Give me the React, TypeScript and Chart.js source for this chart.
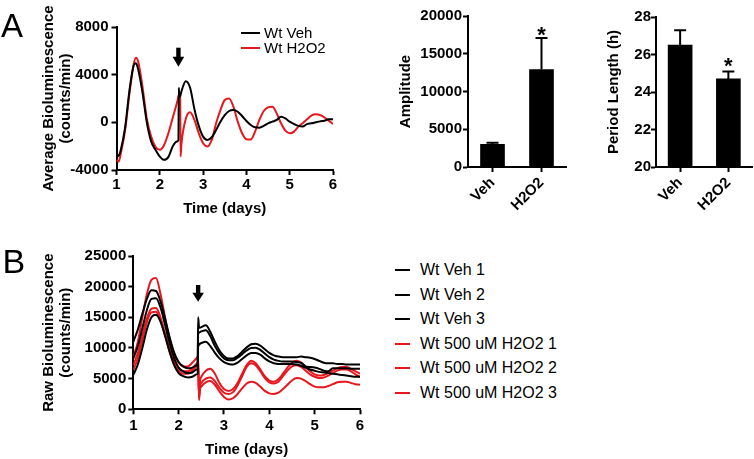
import React, { useEffect, useRef } from 'react';
import { Chart, registerables } from 'chart.js';
Chart.register(...registerables);

const FONT = "Arial, 'Liberation Sans', Helvetica, sans-serif";
const RED = '#e8161d';

// ---------- Panel A: average bioluminescence ----------
const timeA = [
  1.0, 1.05, 1.1, 1.2, 1.3, 1.4, 1.45, 1.5, 1.6, 1.7,
  1.8, 1.9, 2.0, 2.1, 2.2, 2.3, 2.4, 2.43, 2.44, 2.45,
  2.47, 2.48, 2.5, 2.6, 2.7, 2.8, 2.9, 3.0,
  3.1, 3.2, 3.3, 3.4, 3.5, 3.6, 3.7, 3.8, 3.9, 4.0,
  4.1, 4.2, 4.3, 4.4, 4.5, 4.6, 4.7, 4.8, 4.9, 5.0,
  5.1, 5.2, 5.3, 5.4, 5.5, 5.6, 5.7, 5.8, 5.9, 6.0,
];
const vehAvg = [
  -2870, -2800, -2300, -400, 2700, 4800, 4950, 4450, 2500, 0,
  -1600, -2300, -2870, -3150, -2900, -2000, -1600, -1500, 2900, 2100,
  2200, 2300, 2600, 3450, 2900, 1100, -300, -1200,
  -1480, -1250, -640, 50, 600, 950, 1030, 890, 530, 110,
  -220, -420, -450, -300, -80, 55, 200, 470, 330, 55,
  -140, -300, -360, -150, -80, 0, 80, 140, 250, 250,
];
const h2o2Avg = [
  -3150, -3290, -2600, -640, 2420, 4930, 5430, 5100, 3000, 300,
  -1200, -2050, -2300, -1900, -900, 400, 1700, 2200, 2300, 2350,
  2300, -2870, -1800, 300, 840, 200, -920, -1760,
  -2030, -1480, -80, 1030, 1870, 2000, 1310, 55, -920, -1420,
  -1450, -780, 200, 950, 1250, 1310, 750, -80, -700, -920,
  -780, -360, -80, 250, 560, 670, 610, 420, 140, -140,
];
const legendA = ['Wt Veh', 'Wt H2O2'];

// ---------- Amplitude / period bars ----------
const barCats = ['Veh', 'H2O2'];
const ampMean = [3000, 12900];
const ampErr = [220, 4200];
const periodMean = [26.5, 24.7];
const periodErr = [0.8, 0.4];
const significant = [false, true];

// ---------- Panel B: raw bioluminescence ----------
const timeB = [
  1.0, 1.1, 1.2, 1.3, 1.4, 1.5, 1.6, 1.7, 1.8, 1.9,
  2.0, 2.1, 2.2, 2.3, 2.4,
  2.42, 2.43, 2.45, 2.47, 2.5,
  2.6, 2.7, 2.8, 2.9, 3.0, 3.1, 3.2, 3.3, 3.4, 3.5,
  3.6, 3.7, 3.8, 3.9, 4.0, 4.1, 4.2, 4.3, 4.4, 4.5,
  4.6, 4.7, 4.8, 4.9, 5.0, 5.1, 5.2, 5.3, 5.4, 5.5,
  5.6, 5.7, 5.8, 5.9, 6.0,
];
const veh1 = [
  11000, 13000, 15600, 18000, 19400, 19300, 17600, 14800, 11800, 9300,
  7700, 7000, 6700, 6800, 7200,
  7300, 15000, 13400, 13300, 13400,
  13700, 12600, 11000, 9600, 8700, 8300, 8300, 8700, 9400, 10100,
  10600, 10700, 10400, 9800, 9200, 8800, 8600, 8500, 8500, 8500,
  8500, 8600, 8500, 8400, 8200, 7900, 7600, 7500, 7500, 7400,
  7400, 7300, 7300, 7300, 7300,
];
const veh2 = [
  8300, 10300, 13200, 16200, 18000, 18100, 16600, 13800, 10800, 8400,
  6800, 6200, 5900, 6000, 6500,
  6600, 12400, 12500, 12600, 12700,
  12900, 11900, 10300, 9100, 8300, 8000, 8000, 8400, 9000, 9600,
  10000, 10050, 9700, 9100, 8500, 8100, 7900, 7800, 7800, 7800,
  7700, 7600, 7000, 6900, 6800, 6600, 6300, 6200, 6700, 6700,
  6700, 6700, 6600, 6600, 6600,
];
const veh3 = [
  5600, 7300, 10000, 13000, 15000, 15400, 14300, 12000, 9400, 7200,
  5900, 5400, 5200, 5300, 5700,
  5800, 10200, 10500, 10700, 10800,
  11000, 10300, 9200, 8300, 7700, 7400, 7300, 7600, 8200, 8800,
  9200, 9200, 8900, 8300, 7800, 7500, 7400, 7400, 7400, 7400,
  7300, 7100, 6800, 6500, 6300, 6100, 6000, 5900, 5800, 5700,
  5600, 5500, 5400, 5300, 5300,
];
const h2o2a = [
  8500, 11000, 15000, 18800, 21100, 21400, 18800, 15000, 11500, 9000,
  7600, 7000, 7000, 7600, 8400,
  8600, 8700, 1800, 4500, 5300,
  6300, 6600, 5800, 4300, 3300, 3000, 3300, 4300, 5800, 7200,
  7900, 7500, 6500, 5400, 4700, 4500, 4900, 5800, 6800, 7600,
  7900, 7600, 6900, 6200, 5700, 5500, 5600, 5900, 6300, 6700,
  6900, 6900, 6600, 6200, 5800,
];
const h2o2b = [
  7200, 9200, 12000, 14800, 16400, 16500, 15000, 12400, 9800, 7900,
  6700, 6200, 6200, 6700, 7500,
  7700, 7800, 2200, 3800, 4300,
  5000, 5200, 4600, 3500, 2700, 2500, 2800, 3900, 5400, 6900,
  7500, 7200, 6200, 5100, 4400, 4200, 4500, 5400, 6300, 7000,
  7200, 6900, 6300, 5700, 5300, 5100, 5200, 5500, 5900, 6300,
  6500, 6500, 6200, 5700, 5300,
];
const h2o2c = [
  6400, 8300, 11200, 14200, 15800, 15900, 14500, 12000, 9400, 7500,
  6300, 5800, 5800, 6300, 7100,
  7300, 7400, 1500, 3200, 3700,
  4400, 4600, 4000, 2900, 2000, 1600, 1800, 2500, 3400, 4200,
  4500, 4300, 3700, 3000, 2600, 2500, 2700, 3300, 4000, 4700,
  5100, 5000, 4600, 4100, 3700, 3600, 3600, 3800, 4100, 4400,
  4500, 4500, 4300, 4100, 4000,
];
const legendB = ['Wt Veh 1', 'Wt Veh 2', 'Wt Veh 3', 'Wt 500 uM H2O2 1', 'Wt 500 uM H2O2 2', 'Wt 500 uM H2O2 3'];
const seriesB = [veh1, veh2, veh3, h2o2a, h2o2b, h2o2c];
const colorsB = ['#000', '#000', '#000', RED, RED, RED];

const arrowDay = 2.43;

// ---------- plugins ----------
const arrowPlugin = {
  id: 'arrow',
  afterDatasetsDraw(chart: any, _a: any, opts: any) {
    if (!opts || opts.day == null) return;
    const ctx = chart.ctx;
    const x = chart.scales.x.getPixelForValue(opts.day);
    const top = chart.chartArea.top + opts.top;
    const bot = chart.chartArea.top + opts.bottom;
    const hs = bot - opts.head;
    ctx.save();
    ctx.fillStyle = '#000';
    ctx.fillRect(x - 2.2, top, 4.4, hs - top + 1);
    ctx.beginPath();
    ctx.moveTo(x - 5.8, hs);
    ctx.lineTo(x + 5.8, hs);
    ctx.lineTo(x, bot);
    ctx.closePath();
    ctx.fill();
    ctx.restore();
  },
};

const errPlugin = {
  id: 'errbars',
  afterDatasetsDraw(chart: any, _a: any, opts: any) {
    if (!opts || !opts.mean) return;
    const ctx = chart.ctx;
    const ys = chart.scales.y;
    const meta = chart.getDatasetMeta(0);
    ctx.save();
    ctx.strokeStyle = '#000';
    ctx.fillStyle = '#000';
    ctx.lineWidth = 2;
    meta.data.forEach((bar: any, i: number) => {
      const yBar = ys.getPixelForValue(opts.mean[i]);
      const yTop = ys.getPixelForValue(opts.mean[i] + opts.err[i]);
      ctx.beginPath();
      ctx.moveTo(bar.x, yBar);
      ctx.lineTo(bar.x, yTop);
      ctx.moveTo(bar.x - 6, yTop);
      ctx.lineTo(bar.x + 6, yTop);
      ctx.stroke();
      if (opts.sig[i]) {
        ctx.font = `bold 22px ${FONT}`;
        ctx.textAlign = 'center';
        ctx.textBaseline = 'alphabetic';
        const m = ctx.measureText('*');
        const desc = m.actualBoundingBoxDescent || -9;
        ctx.fillText('*', bar.x, yTop - opts.starGap - desc);
      }
    });
    ctx.restore();
  },
};

// ---------- shared styles ----------
const tickFont = { family: FONT, size: 15, weight: 'bold' as const };
const titleFont = { family: FONT, size: 15, weight: 'bold' as const, lineHeight: 1.13 };
const gridStyle = { display: true, drawOnChartArea: false, drawTicks: true, tickLength: 5, tickWidth: 2, tickColor: '#000', color: '#000', offset: false };
const borderStyle = { display: true, color: '#000', width: 2 };
const numLabel = (v: any) => String(v);

function lineConfig(opts: any): any {
  return {
    type: 'line',
    data: {
      datasets: opts.series.map((s: number[], i: number) => ({
        label: opts.labels[i],
        data: opts.times.map((t: number, k: number) => ({ x: t, y: s[k] })),
        borderColor: opts.colors[i],
        borderWidth: 2,
        pointRadius: 0,
        fill: false,
        cubicInterpolationMode: 'monotone',
      })),
    },
    options: {
      responsive: false,
      animation: false,
      events: [],
      layout: { padding: opts.padding },
      plugins: { legend: { display: false }, tooltip: { enabled: false }, arrow: opts.arrow },
      scales: {
        x: {
          type: 'linear', min: 1, max: 6,
          ticks: { stepSize: 1, font: tickFont, color: '#000', padding: opts.xTickPad, callback: numLabel },
          grid: gridStyle, border: borderStyle,
          title: { display: true, text: 'Time (days)', font: titleFont, color: '#000', padding: { top: 0, bottom: opts.xTitlePad } },
          afterFit: (s: any) => { s.height = opts.xHeight; },
        },
        y: {
          type: 'linear', min: opts.yMin, max: opts.yMax,
          ticks: { stepSize: opts.yStep, font: tickFont, color: '#000', padding: opts.yTickPad, callback: numLabel },
          grid: gridStyle, border: borderStyle,
          title: { display: true, text: opts.yTitle, font: titleFont, color: '#000', padding: { top: opts.yTitlePad, bottom: 0 } },
          afterFit: (s: any) => { s.width = opts.yWidth; },
        },
      },
    },
    plugins: [arrowPlugin],
  };
}

function barConfig(opts: any): any {
  return {
    type: 'bar',
    data: {
      labels: barCats,
      datasets: [{
        data: opts.mean,
        backgroundColor: '#000',
        borderWidth: 0,
        barThickness: 24,
      }],
    },
    options: {
      responsive: false,
      animation: false,
      events: [],
      layout: { padding: opts.padding },
      plugins: {
        legend: { display: false }, tooltip: { enabled: false },
        errbars: { mean: opts.mean, err: opts.err, sig: significant, starGap: opts.starGap },
      },
      scales: {
        x: {
          type: 'category', offset: true,
          ticks: { font: tickFont, color: '#000', padding: 2, minRotation: 45, maxRotation: 45, autoSkip: false },
          grid: gridStyle, border: borderStyle,
          afterFit: (s: any) => { s.height = opts.xHeight; },
        },
        y: {
          type: 'linear', min: opts.yMin, max: opts.yMax,
          ticks: { stepSize: opts.yStep, font: tickFont, color: '#000', padding: opts.yTickPad, callback: numLabel },
          grid: gridStyle, border: borderStyle,
          title: { display: true, text: opts.yTitle, font: titleFont, color: '#000', padding: { top: opts.yTitlePad, bottom: 0 } },
          afterFit: (s: any) => { s.width = opts.yWidth; },
        },
      },
    },
    plugins: [errPlugin],
  };
}

function ChartBox({ x, y, w, h, build }: { x: number; y: number; w: number; h: number; build: () => any }) {
  const ref = useRef<HTMLCanvasElement>(null);
  useEffect(() => {
    const chart = new Chart(ref.current as HTMLCanvasElement, build());
    return () => chart.destroy();
  }, []);
  return <canvas ref={ref} width={w} height={h} style={{ position: 'absolute', left: x, top: y, width: w, height: h }} />;
}

const text = (s: React.CSSProperties): React.CSSProperties => ({ position: 'absolute', fontFamily: FONT, color: '#000', whiteSpace: 'nowrap', ...s });

export default function App() {
  return (
    <div style={{ position: 'fixed', left: 0, top: 0, width: 754, height: 459, background: '#fff', overflow: 'hidden' }}>
      <ChartBox x={0} y={0} w={345} h={225} build={() => lineConfig({
        times: timeA, series: [vehAvg, h2o2Avg], labels: legendA, colors: ['#000', RED],
        padding: { left: 0, right: 12, top: 27, bottom: 0 },
        xHeight: 55, xTickPad: 1, xTitlePad: 7.5,
        yMin: -4000, yMax: 8000, yStep: 4000, yWidth: 116.5, yTitlePad: 40, yTickPad: 3,
        yTitle: ['Average Bioluminescence', '(counts/min)'],
        arrow: { day: arrowDay, top: 20.7, bottom: 39.7, head: 10 },
      })} />
      <ChartBox x={380} y={0} w={190} h={225} build={() => barConfig({
        mean: ampMean, err: ampErr, padding: { left: 0, right: 4, top: 16, bottom: 0 },
        xHeight: 58, yMin: 0, yMax: 20000, yStep: 5000, yWidth: 88, yTitlePad: 17, yTickPad: 1,
        yTitle: 'Amplitude', starGap: 1.5,
      })} />
      <ChartBox x={575} y={0} w={179} h={225} build={() => barConfig({
        mean: periodMean, err: periodErr, padding: { left: 0, right: 1.5, top: 17, bottom: 0 },
        xHeight: 58, yMin: 20, yMax: 28, yStep: 2, yWidth: 81, yTitlePad: 30.5, yTickPad: 0,
        yTitle: 'Period Length (h)', starGap: 4,
      })} />
      <ChartBox x={0} y={230} w={370} h={229} build={() => lineConfig({
        times: timeB, series: seriesB, labels: legendB, colors: colorsB,
        padding: { left: 0, right: 10, top: 26, bottom: 0 },
        xHeight: 49.7, xTickPad: 2.7, xTitlePad: 0.5,
        yMin: 0, yMax: 25000, yStep: 5000, yWidth: 133.3, yTitlePad: 40, yTickPad: 2,
        yTitle: ['Raw Bioluminescence', '(counts/min)'],
        arrow: { day: arrowDay, top: 29, bottom: 45.7, head: 9 },
      })} />

      <div style={text({ left: 1, top: 8.7, fontSize: 33, lineHeight: '33px' })}>A</div>
      <div style={text({ left: 2.5, top: 243.5, fontSize: 34, lineHeight: '34px' })}>B</div>

      {legendA.map((lab, i) => (
        <React.Fragment key={lab}>
          <div style={{ position: 'absolute', left: 241, top: 32 + i * 15, width: 19, height: 2, background: i === 0 ? '#000' : RED }} />
          <div style={text({ left: 264, top: 33 + i * 15 - 9, fontSize: 15, lineHeight: '18px' })}>{lab}</div>
        </React.Fragment>
      ))}

      {legendB.map((lab, i) => (
        <React.Fragment key={lab}>
          <div style={{ position: 'absolute', left: 395, top: 269 + i * 24.6, width: 15, height: 2, background: colorsB[i] }} />
          <div style={text({ left: 420, top: 270 + i * 24.6 - 10, fontSize: 16, lineHeight: '20px' })}>{lab}</div>
        </React.Fragment>
      ))}
    </div>
  );
}
